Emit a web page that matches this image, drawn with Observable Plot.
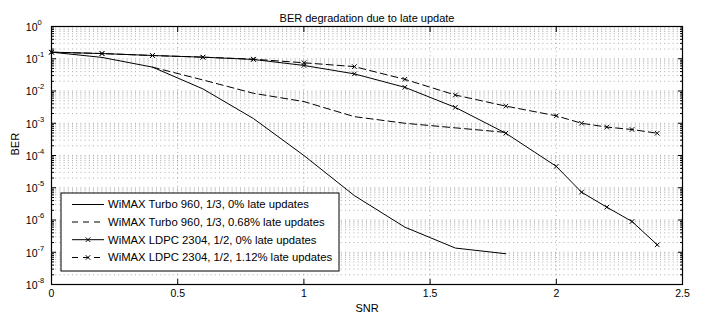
<!DOCTYPE html>
<html>
<head>
<meta charset="utf-8">
<script src="https://cdn.jsdelivr.net/npm/d3@7"></script>
<script src="https://cdn.jsdelivr.net/npm/@observablehq/plot@0.6"></script>
<style>
  html, body { margin: 0; padding: 0; background: white; }
  svg { display: block; }
</style>
</head>
<body>
<div id="chart"></div>
<script>
// ---- data ----
const title = "BER degradation due to late update";
const xLabel = "SNR";
const yLabel = "BER";

const turboSnr = [0, 0.2, 0.4, 0.6, 0.8, 1.0, 1.2, 1.4, 1.6, 1.8];
const turbo0 = [0.16, 0.11, 0.055, 0.0116, 0.0014, 1.0e-4, 5.7e-6, 6.0e-7, 1.35e-7, 9.0e-8];

const turboLateSnr = [0.4, 0.6, 0.8, 1.0, 1.2, 1.4, 1.6, 1.8];
const turboLate = [0.055, 0.022, 0.0085, 0.0047, 0.0016, 0.0010, 7.2e-4, 5.2e-4];

const ldpcSnr = [0, 0.2, 0.4, 0.6, 0.8, 1.0, 1.2, 1.4, 1.6, 1.8, 2.0, 2.1, 2.2, 2.3, 2.4];
const ldpc0 = [0.16, 0.145, 0.126, 0.112, 0.095, 0.062, 0.034, 0.013, 0.0031, 4.9e-4, 4.6e-5, 7.3e-6, 2.5e-6, 9.0e-7, 1.7e-7];
const ldpcLate = [0.16, 0.145, 0.126, 0.112, 0.097, 0.075, 0.057, 0.023, 0.0075, 0.0034, 0.0017, 1.0e-3, 7.6e-4, 6.4e-4, 4.9e-4];

const seriesNames = [
  "WiMAX Turbo 960, 1/3, 0% late updates",
  "WiMAX Turbo 960, 1/3, 0.68% late updates",
  "WiMAX LDPC 2304, 1/2, 0% late updates",
  "WiMAX LDPC 2304, 1/2, 1.12% late updates"
];

const xTicks = [0, 0.5, 1, 1.5, 2, 2.5];
const xTickLabels = ["0", "0.5", "1", "1.5", "2", "2.5"];
const yExponents = [0, -1, -2, -3, -4, -5, -6, -7, -8];

// ---- derived tables ----
const toRows = (xs, ys) => xs.map((x, i) => ({x, y: ys[i]}));
const sTurbo0 = toRows(turboSnr, turbo0);
const sTurboLate = toRows(turboLateSnr, turboLate);
const sLdpc0 = toRows(ldpcSnr, ldpc0);
const sLdpcLate = toRows(ldpcSnr, ldpcLate);

const yMajor = yExponents.map(e => Math.pow(10, e));
const yMinor = [];
for (const e of yExponents.slice(1)) for (let k = 2; k <= 9; k++) yMinor.push(k * Math.pow(10, e));

const FONT = "'Liberation Sans', Arial, Helvetica, sans-serif";
const dash = "7,4";
const R = 2.2;
const grid = {stroke: "#777", strokeWidth: 0.6, strokeDasharray: "1,3.2"};

const chart = Plot.plot({
  width: 705,
  height: 318,
  marginTop: 26,
  marginBottom: 34,
  marginLeft: 51,
  marginRight: 23,
  style: {fontFamily: FONT, fontSize: "10px", background: "white", color: "black"},
  x: {domain: [0, 2.5], axis: null},
  y: {type: "log", domain: [1e-8, 1], axis: null},
  marks: [
    // grid
    Plot.ruleY(yMinor.concat(yMajor), grid),
    Plot.ruleX(xTicks, grid),
    // series
    Plot.line(sTurbo0, {x: "x", y: "y", stroke: "black", strokeWidth: 1}),
    Plot.line(sTurboLate, {x: "x", y: "y", stroke: "black", strokeWidth: 1, strokeDasharray: dash}),
    Plot.line(sLdpc0, {x: "x", y: "y", stroke: "black", strokeWidth: 1}),
    Plot.line(sLdpcLate, {x: "x", y: "y", stroke: "black", strokeWidth: 1, strokeDasharray: dash}),
    Plot.dot(sLdpc0, {x: "x", y: "y", symbol: "times", r: R, stroke: "black", strokeWidth: 1}),
    Plot.dot(sLdpcLate, {x: "x", y: "y", symbol: "times", r: R, stroke: "black", strokeWidth: 1}),
    // frame
    Plot.frame({stroke: "black", strokeWidth: 1.2}),
    // inward ticks
    Plot.axisX({anchor: "bottom", ticks: xTicks, tickSize: -5, tickFormat: () => "", label: null, strokeWidth: 1}),
    Plot.axisX({anchor: "top", ticks: xTicks, tickSize: -5, tickFormat: () => "", label: null, strokeWidth: 1}),
    Plot.axisY({anchor: "left", ticks: yMajor, tickSize: -5, tickFormat: () => "", label: null}),
    Plot.axisY({anchor: "right", ticks: yMajor, tickSize: -5, tickFormat: () => "", label: null}),
    Plot.axisY({anchor: "left", ticks: yMinor, tickSize: -3, tickFormat: () => "", label: null}),
    Plot.axisY({anchor: "right", ticks: yMinor, tickSize: -3, tickFormat: () => "", label: null}),
    // tick labels
    Plot.text(xTicks, {x: d => d, text: (d, i) => xTickLabels[i], frameAnchor: "bottom", dy: 12, fontSize: 10.5}),
    Plot.text(yMajor, {y: d => d, text: () => "10", frameAnchor: "left", textAnchor: "end", dx: -14, dy: 1, fontSize: 10.5}),
    Plot.text(yMajor, {y: d => d, text: (d, i) => String(yExponents[i]), frameAnchor: "left", textAnchor: "start", dx: -14, dy: -4, fontSize: 7.5}),
    // titles
    Plot.text([title], {frameAnchor: "top", dy: -12, fontSize: 11}),
    Plot.text([xLabel], {frameAnchor: "bottom", dy: 27, fontSize: 11}),
    Plot.text([yLabel], {frameAnchor: "left", dx: -36, rotate: -90, fontSize: 11})
  ]
});

// legend (pixel layout inside the plot area)
const svg = d3.select(chart);
const lg = svg.append("g").attr("font-family", FONT).attr("font-size", 11).attr("text-anchor", "start");
lg.append("rect").attr("x", 61).attr("y", 193).attr("width", 278).attr("height", 78)
  .attr("fill", "white").attr("stroke", "black").attr("stroke-width", 1);
const styles = [
  {dash: null, mark: false},
  {dash: dash, mark: false},
  {dash: null, mark: true},
  {dash: dash, mark: true}
];
const rowY = [204.5, 222, 239.7, 257.5];
seriesNames.forEach((name, i) => {
  const y = rowY[i];
  lg.append("line").attr("x1", 72).attr("x2", 104).attr("y1", y).attr("y2", y)
    .attr("stroke", "black").attr("stroke-width", 1)
    .attr("stroke-dasharray", styles[i].dash === dash ? "6,5" : null);
  if (styles[i].mark) {
    lg.append("path").attr("d", d3.symbol(d3.symbolTimes, R * R * Math.PI)())
      .attr("transform", `translate(88,${y})`).attr("fill", "none").attr("stroke", "black").attr("stroke-width", 1);
  }
  lg.append("text").attr("x", 108).attr("y", y).attr("dy", "0.35em")
    .attr("text-anchor", "start").attr("font-size", 11.3).text(name);
});

document.getElementById("chart").appendChild(chart);
</script>
</body>
</html>
